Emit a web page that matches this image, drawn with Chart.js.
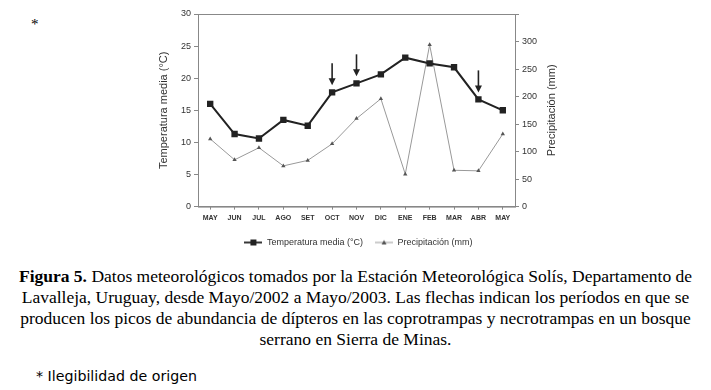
<!DOCTYPE html>
<html>
<head>
<meta charset="utf-8">
<script src="https://cdn.jsdelivr.net/npm/chart.js@4"></script>
<style>
  body { margin: 0; background: #fff; width: 711px; height: 390px; position: relative; overflow: hidden; }
  #wrap { position: absolute; left: 0; top: 0; width: 711px; height: 257px; }
  #star { position: absolute; left: 31px; top: 16px; font-family: "Liberation Serif", serif; font-size: 15px; color: #000; }
  #caption { position: absolute; left: 0; top: 266px; width: 711px; text-align: center; font-family: "Liberation Serif", serif; font-size: 17.5px; line-height: 21px; color: #000; }
  #nota { position: absolute; left: 36px; top: 368px; font-family: "DejaVu Sans", sans-serif; font-size: 14.2px; color: #000; }
</style>
</head>
<body>
<div id="star">*</div>
<div id="wrap"><canvas id="clima"></canvas></div>
<div id="caption"><b>Figura 5.</b> Datos meteorológicos tomados por la Estación Meteorológica Solís, Departamento de<br>Lavalleja, Uruguay, desde Mayo/2002 a Mayo/2003. Las flechas indican los períodos en que se<br>producen los picos de abundancia de dípteros en las coprotrampas y necrotrampas en un bosque<br>serrano en Sierra de Minas.</div>
<div id="nota">* Ilegibilidad de origen</div>
<script>
// datos
var meses = ['MAY', 'JUN', 'JUL', 'AGO', 'SET', 'OCT', 'NOV', 'DIC', 'ENE', 'FEB', 'MAR', 'ABR', 'MAY'];
var temperatura = [16.0, 11.3, 10.6, 13.5, 12.6, 17.8, 19.2, 20.6, 23.2, 22.3, 21.7, 16.7, 15.0];
var precipitacion = [123, 85, 107, 74, 84, 114, 160, 196, 59, 294, 66, 65, 132];
var flechas = [5, 6, 11]; // OCT, NOV, ABR

var gris = '#888';
var texto = '#333';
var tituloDer = 'Precipitación (mm)';

// marcador de leyenda: linea con el simbolo encima
function marcador(color, ancho, forma) {
    var c = document.createElement('canvas');
    c.width = 18; c.height = 8;
    var g = c.getContext('2d');
    g.strokeStyle = color;
    g.lineWidth = ancho;
    g.beginPath(); g.moveTo(0, 4); g.lineTo(18, 4); g.stroke();
    g.fillStyle = color;
    if (forma === 'rect') {
        g.fillRect(6, 1, 6, 6);
    } else {
        g.fillStyle = '#555';
        g.beginPath(); g.moveTo(9, 1.5); g.lineTo(11.5, 6); g.lineTo(6.5, 6); g.closePath(); g.fill();
    }
    return c;
}

var caja = {
    id: 'caja',
    afterDraw: function (chart) {
        var a = chart.chartArea, ctx = chart.ctx;
        ctx.save();
        ctx.strokeStyle = gris;
        ctx.lineWidth = 1;
        ctx.strokeRect(a.left + 0.5, a.top + 0.5, a.right - a.left, a.bottom - a.top);
        // titulo del eje derecho, leido de abajo hacia arriba
        var s = chart.scales.yPrec;
        ctx.translate(s.right - 8, (a.top + a.bottom) / 2);
        ctx.rotate(-Math.PI / 2);
        ctx.fillStyle = texto;
        ctx.font = '11px "Liberation Sans"';
        ctx.textAlign = 'center';
        ctx.textBaseline = 'middle';
        ctx.fillText(tituloDer, 0, 0);
        ctx.restore();
    }
};

var flechasPlugin = {
    id: 'flechas',
    afterDatasetsDraw: function (chart) {
        var meta = chart.getDatasetMeta(0);
        var ctx = chart.ctx;
        ctx.save();
        ctx.strokeStyle = '#222';
        ctx.fillStyle = '#222';
        ctx.lineWidth = 1.6;
        flechas.forEach(function (i) {
            var p = meta.data[i];
            var tip = p.y - 7;
            ctx.beginPath();
            ctx.moveTo(p.x, tip - 22);
            ctx.lineTo(p.x, tip - 5);
            ctx.stroke();
            ctx.beginPath();
            ctx.moveTo(p.x, tip);
            ctx.lineTo(p.x - 3.5, tip - 7);
            ctx.lineTo(p.x + 3.5, tip - 7);
            ctx.closePath();
            ctx.fill();
        });
        ctx.restore();
    }
};

var ctx = document.getElementById('clima').getContext('2d');
var grafico = new Chart(ctx, {
    type: 'line',
    data: {
        labels: meses,
        datasets: [{
            label: 'Temperatura media (°C)',
            data: temperatura,
            yAxisID: 'yTemp',
            borderColor: '#222',
            backgroundColor: '#222',
            borderWidth: 2,
            pointStyle: 'rect',
            pointRadius: 4.5,
            pointBorderWidth: 0,
            tension: 0
        }, {
            label: tituloDer,
            data: precipitacion,
            yAxisID: 'yPrec',
            borderColor: '#999',
            backgroundColor: '#555',
            borderWidth: 1,
            pointStyle: 'triangle',
            pointRadius: 2.5,
            pointBorderWidth: 0,
            tension: 0
        }]
    },
    options: {
        responsive: true,
        maintainAspectRatio: false,
        animation: false,
        layout: { padding: { left: 157, right: 151, top: 14, bottom: 0 } },
        plugins: {
            tooltip: { enabled: false },
            legend: {
                position: 'bottom',
                labels: {
                    usePointStyle: true,
                    pointStyleWidth: 18,
                    color: texto,
                    font: { family: 'Liberation Sans', size: 9 },
                    padding: 12,
                    generateLabels: function (chart) {
                        return [
                            { text: 'Temperatura media (°C)', pointStyle: marcador('#222', 1.8, 'rect'), fontColor: texto, lineWidth: 0, strokeStyle: 'transparent', fillStyle: 'transparent', datasetIndex: 0 },
                            { text: tituloDer, pointStyle: marcador('#999', 1, 'tri'), fontColor: texto, lineWidth: 0, strokeStyle: 'transparent', fillStyle: 'transparent', datasetIndex: 1 }
                        ];
                    }
                }
            }
        },
        scales: {
            x: {
                offset: true,
                grid: { drawOnChartArea: false, color: gris, tickLength: 3, offset: false },
                border: { color: gris },
                ticks: { color: texto, font: { family: 'Liberation Sans', size: 7, weight: 'bold' }, padding: 4, maxRotation: 0, autoSkip: false }
            },
            yTemp: {
                position: 'left',
                min: 0, max: 30,
                afterFit: function (s) { s.width = 41; },
                ticks: { stepSize: 5, color: texto, font: { family: 'Liberation Sans', size: 9 }, padding: 3 },
                grid: { drawOnChartArea: false, color: gris, tickLength: 4 },
                border: { color: gris },
                title: { display: true, text: 'Temperatura media (°C)', color: texto, font: { family: 'Liberation Sans', size: 11 }, padding: 0 }
            },
            yPrec: {
                position: 'right',
                min: 0, max: 350,
                afterFit: function (s) { s.width = 45; },
                ticks: {
                    stepSize: 50, color: texto, font: { family: 'Liberation Sans', size: 9 }, padding: 3,
                    callback: function (v) { return v === 350 ? '' : v; }
                },
                grid: { drawOnChartArea: false, color: gris, tickLength: 4 },
                border: { color: gris },
                title: { display: false }
            }
        }
    },
    plugins: [caja, flechasPlugin]
});
</script>
</body>
</html>
